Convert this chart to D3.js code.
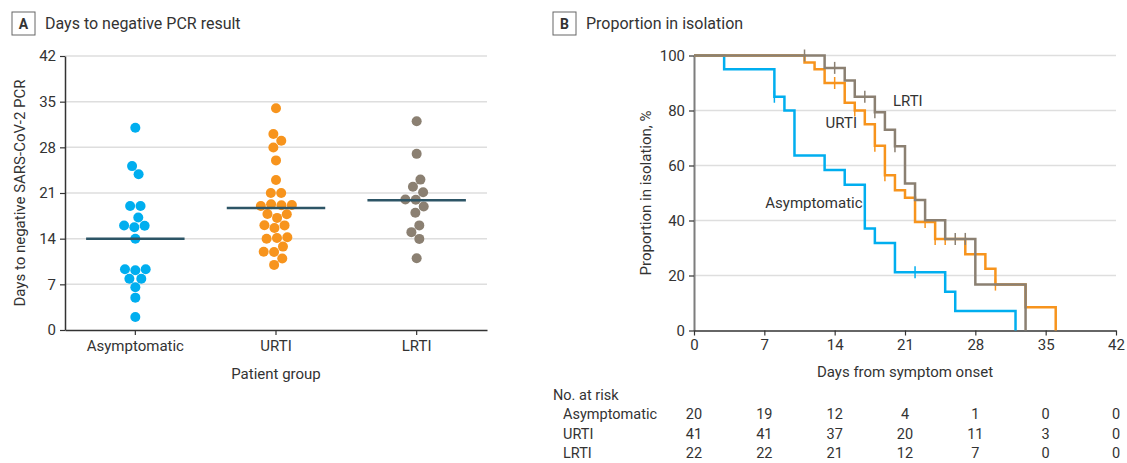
<!DOCTYPE html>
<html>
<head>
<meta charset="utf-8">
<script src="https://cdn.jsdelivr.net/npm/d3@7"></script>
<style>
  body { margin: 0; background: #fff; }
  svg text { font-family: Roboto, "Noto Sans", sans-serif; fill: #333; }
</style>
</head>
<body>
<div id="chart"></div>
<script>
// panel A: days to negative PCR, one value per patient
const groups = ["Asymptomatic", "URTI", "LRTI"];
const asymDays = [31, 25, 24, 19, 19, 17, 16, 16, 16, 14, 9, 9, 9, 8, 8, 7, 5, 2];
const urtiDays = [34, 30, 29, 28, 26, 23, 21, 21, 19, 19, 19, 19, 18, 18, 17, 16, 16, 16, 14, 14, 14, 13, 12, 12, 11, 10];
const lrtiDays = [32, 27, 23, 22, 21, 20, 20, 19, 18, 16, 15, 14, 11];
const medianDays = [14, 18.7, 19.9];
const dayTicks = [0, 7, 14, 21, 28, 35, 42];

// panel B: Kaplan-Meier steps [day, % still in isolation] and censor marks
const asymSteps = [[0, 100], [3, 95], [8, 85], [9, 80], [10, 63.6], [13, 58.4], [15, 53], [17, 37.1], [18, 31.8], [20, 21.2], [25, 14.1], [26, 7.1], [32, 0]];
const urtiSteps = [[0, 100], [11, 97.5], [12, 95], [13, 90], [15, 82.8], [16, 80], [17, 75], [18, 67.2], [19, 56.5], [20, 51], [21, 48.3], [22, 39.5], [24, 33.3], [27, 27.7], [29, 22.5], [30, 16.7], [33, 8.5], [36, 0]];
const lrtiSteps = [[0, 100], [13, 95.5], [15, 90.9], [16, 85], [18, 79.4], [19, 73], [20, 67], [21, 53.5], [22, 47.5], [23, 40.1], [25, 33.3], [28, 16.7], [33, 0]];
const asymCensor = [[8, 85], [22, 21.2]];
const urtiCensor = [[14, 90], [16, 80], [18, 67.2], [19, 56.5], [23, 39.5], [24, 33.3], [25, 33.3], [30, 16.7]];
const lrtiCensor = [[11, 100], [14, 95.5], [17, 85], [18, 79.4], [20, 67], [26, 33.3], [27, 33.3]];
const pctTicks = [0, 20, 40, 60, 80, 100];

// number at risk table
const riskDays = [0, 7, 14, 21, 28, 35, 42];
const riskAsym = [20, 19, 12, 4, 1, 0, 0];
const riskUrti = [41, 41, 37, 20, 11, 3, 0];
const riskLrti = [22, 22, 21, 12, 7, 0, 0];

const colors = { Asymptomatic: "#00aeef", URTI: "#f7941d", LRTI: "#8b8072" };

const width = 1127, height = 463;
const svg = d3.select("#chart").append("svg")
  .attr("width", width)
  .attr("height", height);

// panel headers
function header(x, letter, title) {
  const g = svg.append("g").attr("transform", `translate(${x},12)`);
  g.append("rect").attr("width", 23).attr("height", 23)
    .attr("fill", "#fff").attr("stroke", "#666").attr("stroke-width", 1);
  g.append("text").attr("x", 11.5).attr("y", 17).attr("text-anchor", "middle")
    .style("font-size", "14px").style("font-weight", "bold").text(letter);
  g.append("text").attr("x", 33).attr("y", 17)
    .style("font-size", "16px").text(title);
}
header(12, "A", "Days to negative PCR result");
header(553, "B", "Proportion in isolation");

// ---------- panel A ----------
const xA = d3.scaleBand().domain(groups).range([65, 487]);
const yA = d3.scaleLinear().domain([0, 42]).range([330, 56]);
const cx = g => xA(g) + xA.bandwidth() / 2;

svg.append("g").selectAll("line")
  .data(dayTicks.slice(1))
  .join("line")
  .attr("x1", 65).attr("x2", 487)
  .attr("y1", d => yA(d)).attr("y2", d => yA(d))
  .attr("stroke", "#dedede").attr("stroke-width", 1.5);

const axA = svg.append("g").attr("transform", "translate(65,0)")
  .call(d3.axisLeft(yA).tickValues(dayTicks).tickSize(5).tickSizeOuter(0).tickPadding(4));
const bxA = svg.append("g").attr("transform", "translate(0,330)")
  .call(d3.axisBottom(xA).tickSize(5).tickSizeOuter(0).tickPadding(5));
[axA, bxA].forEach(a => {
  a.select(".domain").attr("stroke", "#333").attr("stroke-width", 1.5);
  a.selectAll(".tick line").attr("stroke", "#333").attr("stroke-width", 1.2);
  a.selectAll(".tick text").style("font-size", "15px").attr("fill", "#333");
});

svg.append("text").attr("transform", "translate(25,193) rotate(-90)")
  .attr("text-anchor", "middle").style("font-size", "15px")
  .text("Days to negative SARS-CoV-2 PCR");
svg.append("text").attr("x", cx("URTI")).attr("y", 379)
  .attr("text-anchor", "middle").style("font-size", "15px")
  .text("Patient group");

// beeswarm via a short force run
const nodes = [];
[asymDays, urtiDays, lrtiDays].forEach((vals, i) => {
  vals.forEach(v => nodes.push({ group: groups[i], value: v, x: cx(groups[i]), y: yA(v) }));
});
const sim = d3.forceSimulation(nodes)
  .force("x", d3.forceX(d => cx(d.group)).strength(0.1))
  .force("y", d3.forceY(d => yA(d.value)).strength(1))
  .force("collide", d3.forceCollide(5.2))
  .stop();
for (let i = 0; i < 300; i++) sim.tick();

svg.append("g").selectAll("circle")
  .data(nodes)
  .join("circle")
  .attr("cx", d => d.x)
  .attr("cy", d => d.y)
  .attr("r", 5)
  .attr("fill", d => colors[d.group]);

svg.append("g").selectAll("line")
  .data(groups)
  .join("line")
  .attr("x1", d => cx(d) - xA.bandwidth() * 0.35)
  .attr("x2", d => cx(d) + xA.bandwidth() * 0.35)
  .attr("y1", (d, i) => yA(medianDays[i]))
  .attr("y2", (d, i) => yA(medianDays[i]))
  .attr("stroke", "#2d5566").attr("stroke-width", 2.5);

// ---------- panel B ----------
const xB = d3.scaleLinear().domain([0, 42]).range([694, 1116]);
const yB = d3.scaleLinear().domain([0, 100]).range([330.5, 55.5]);

svg.append("g").selectAll("line")
  .data(pctTicks.slice(1))
  .join("line")
  .attr("x1", 694).attr("x2", 1116)
  .attr("y1", d => yB(d)).attr("y2", d => yB(d))
  .attr("stroke", "#dedede").attr("stroke-width", 1.5);

const axB = svg.append("g").attr("transform", "translate(694,0)")
  .call(d3.axisLeft(yB).tickValues(pctTicks).tickSize(5).tickSizeOuter(0).tickPadding(4));
const bxB = svg.append("g").attr("transform", "translate(0,330.5)")
  .call(d3.axisBottom(xB).tickValues(dayTicks).tickSize(5).tickSizeOuter(0).tickPadding(4));
[axB, bxB].forEach(a => {
  a.select(".domain").attr("stroke", "#333").attr("stroke-width", 1.5);
  a.selectAll(".tick line").attr("stroke", "#333").attr("stroke-width", 1.2);
  a.selectAll(".tick text").style("font-size", "15px").attr("fill", "#333");
});
axB.select(".domain").attr("stroke", "#7d7d7d").attr("stroke-width", 2);

svg.append("text").attr("transform", "translate(651,193) rotate(-90)")
  .attr("text-anchor", "middle").style("font-size", "15px")
  .text("Proportion in isolation, %");
svg.append("text").attr("x", xB(21)).attr("y", 377)
  .attr("text-anchor", "middle").style("font-size", "15px")
  .text("Days from symptom onset");

const step = d3.line()
  .x(d => xB(d[0]))
  .y(d => yB(d[1]))
  .curve(d3.curveStepAfter);

const series = [
  { name: "Asymptomatic", steps: asymSteps, censor: asymCensor },
  { name: "URTI", steps: urtiSteps, censor: urtiCensor },
  { name: "LRTI", steps: lrtiSteps, censor: lrtiCensor }
];

series.forEach(s => {
  svg.append("path")
    .datum(s.steps)
    .attr("d", step)
    .attr("fill", "none")
    .attr("stroke", colors[s.name])
    .attr("stroke-width", 2.5);
  svg.append("g").selectAll("line")
    .data(s.censor)
    .join("line")
    .attr("x1", d => xB(d[0])).attr("x2", d => xB(d[0]))
    .attr("y1", d => yB(d[1]) - 6).attr("y2", d => yB(d[1]) + 6)
    .attr("stroke", colors[s.name]).attr("stroke-width", 1.5);
});

// curve labels
svg.append("text").attr("x", xB(19.8)).attr("y", yB(81.5))
  .style("font-size", "15px").text("LRTI");
svg.append("text").attr("x", xB(13.1)).attr("y", yB(73.5))
  .style("font-size", "15px").text("URTI");
svg.append("text").attr("x", xB(7.1)).attr("y", yB(44.5))
  .style("font-size", "15px").text("Asymptomatic");

// ---------- number at risk ----------
svg.append("text").attr("x", 553).attr("y", 400)
  .style("font-size", "14.5px").text("No. at risk");
const riskRows = [
  { name: "Asymptomatic", values: riskAsym },
  { name: "URTI", values: riskUrti },
  { name: "LRTI", values: riskLrti }
];
riskRows.forEach((r, i) => {
  const y = 419 + i * 19.5;
  svg.append("text").attr("x", 563).attr("y", y)
    .style("font-size", "14.5px").text(r.name);
  svg.append("g").selectAll("text")
    .data(r.values)
    .join("text")
    .attr("x", (d, j) => xB(riskDays[j]))
    .attr("y", y)
    .attr("text-anchor", "middle")
    .style("font-size", "14.5px")
    .text(d => d);
});
</script>
</body>
</html>
